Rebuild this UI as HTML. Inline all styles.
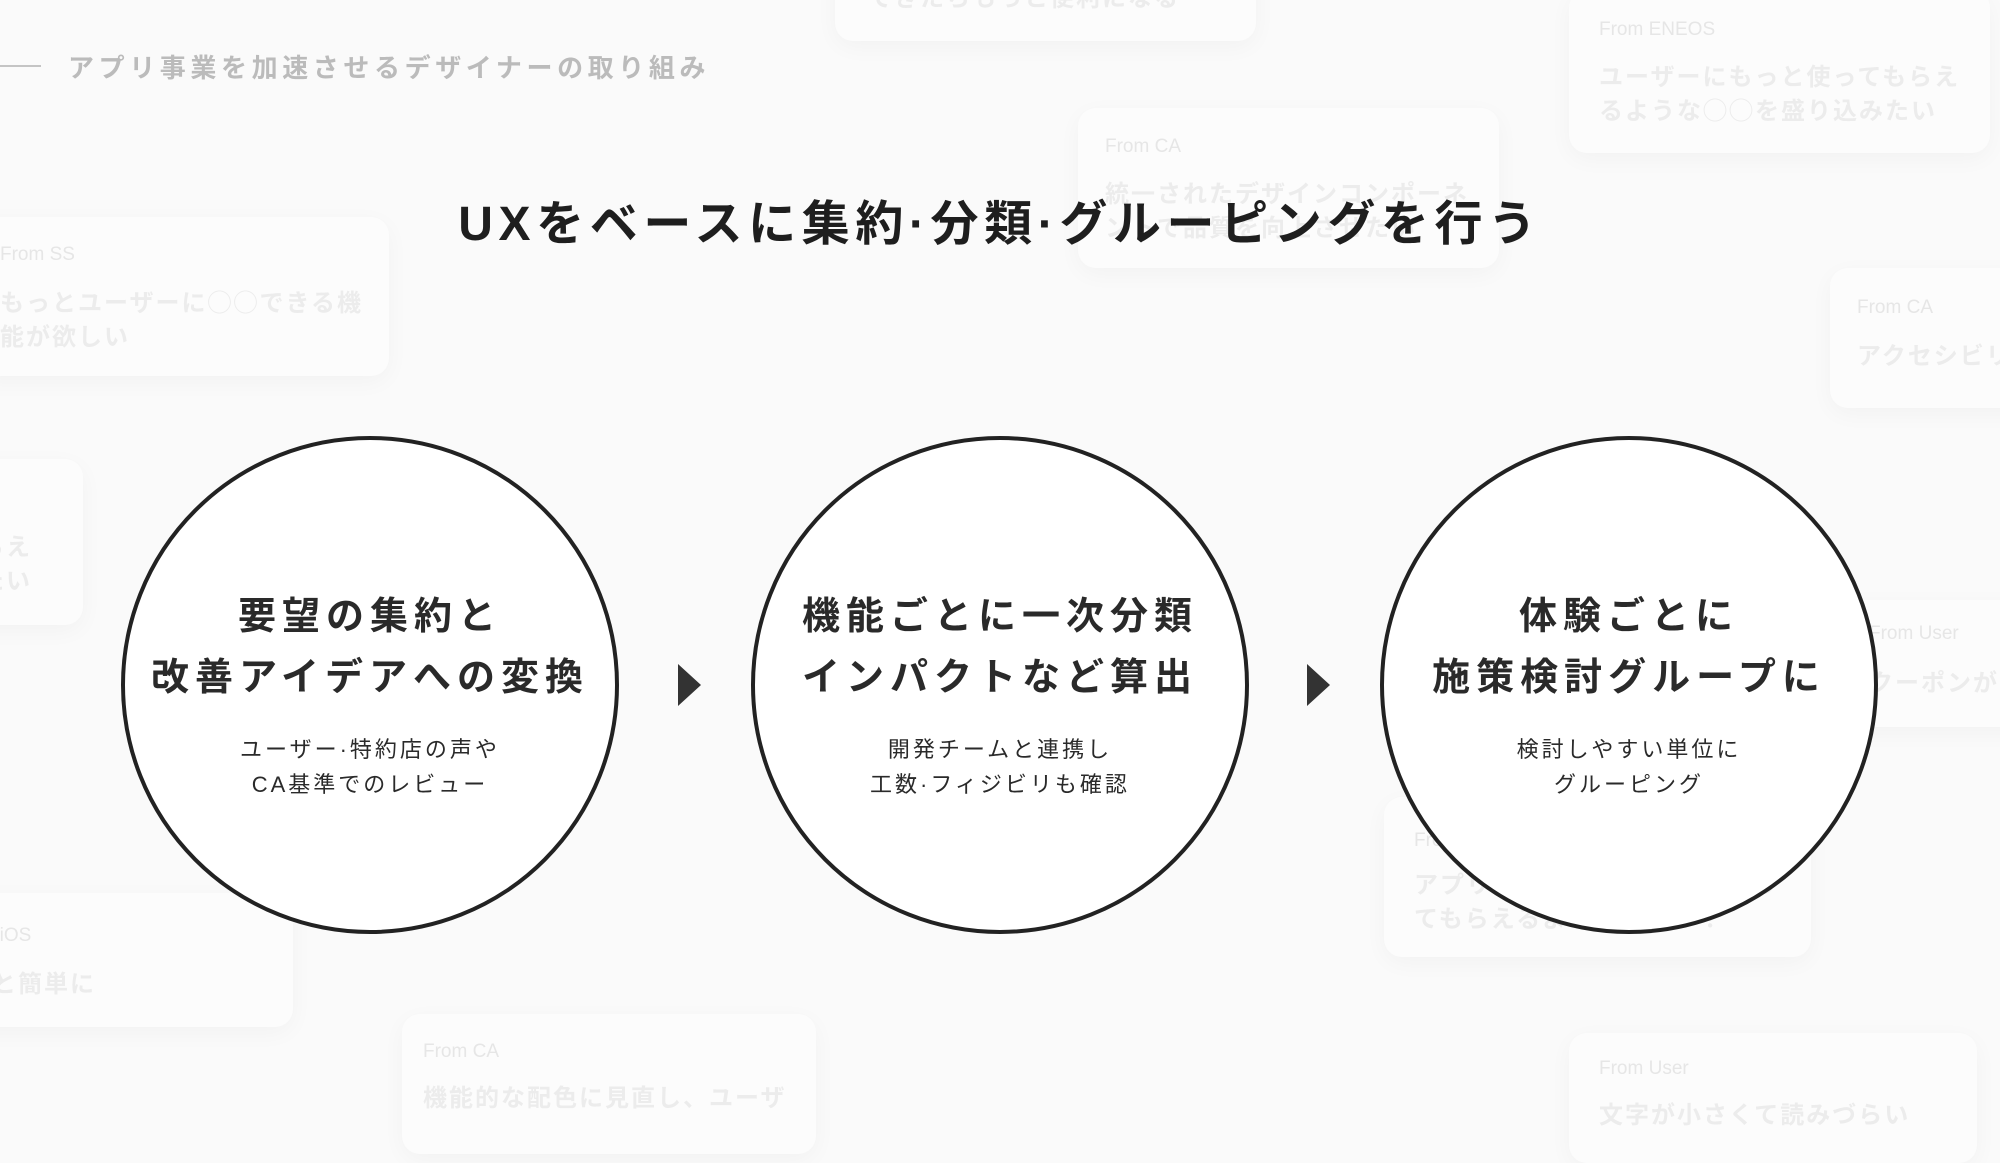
<!DOCTYPE html>
<html><head><meta charset="utf-8"><style>
html,body{margin:0;padding:0}
body{width:2000px;height:1125px;overflow:hidden;background:#fafafa;position:relative;font-family:"Liberation Sans","Noto Sans CJK JP",sans-serif}
.card{position:absolute;background:#fcfcfc;border-radius:18px;box-shadow:0 6px 24px rgba(0,0,0,0.035);}
.f{position:absolute;font-size:19px;color:#e6e6e6;white-space:nowrap}
.t{position:absolute;font-size:24px;font-weight:bold;color:#ececec;line-height:34px;letter-spacing:2px;white-space:nowrap}
.c{position:absolute;width:498px;height:498px;border:4px solid #222;border-radius:50%;background:#fff;box-sizing:border-box;text-align:center}
.m{position:absolute;left:0;right:0;top:147px;font-size:38px;font-weight:bold;color:#2a2a2a;line-height:61px;letter-spacing:6px}
.s{position:absolute;left:0;right:0;top:292px;font-size:22px;color:#2a2a2a;line-height:35px;letter-spacing:3px}
.a{position:absolute;width:0;height:0;border-top:21px solid transparent;border-bottom:21px solid transparent;border-left:23px solid #333}
</style></head><body>
<div class="card" style="left:835px;top:-60px;width:421px;height:101px"></div>
<div class="t" style="left:868px;top:-18px">できたらもっと便利になる</div>
<div class="card" style="left:1569px;top:-10px;width:421px;height:163px"></div>
<div class="f" style="left:1599px;top:19px">From ENEOS</div>
<div class="t" style="left:1599px;top:61px">ユーザーにもっと使ってもらえ<br>るような◯◯を盛り込みたい</div>
<div class="card" style="left:1078px;top:108px;width:421px;height:160px"></div>
<div class="f" style="left:1105px;top:136px">From CA</div>
<div class="t" style="left:1105px;top:178px">統一されたデザインコンポーネ<br>ントで品質を向上させたい</div>
<div class="card" style="left:-25px;top:217px;width:414px;height:159px"></div>
<div class="f" style="left:0px;top:244px">From SS</div>
<div class="t" style="left:0px;top:287px">もっとユーザーに◯◯できる機<br>能が欲しい</div>
<div class="card" style="left:1830px;top:268px;width:200px;height:140px"></div>
<div class="f" style="left:1857px;top:297px">From CA</div>
<div class="t" style="left:1857px;top:340px">アクセシビリティ</div>
<div class="card" style="left:-40px;top:459px;width:123px;height:166px"></div>
<div class="t" style="left:-46px;top:531px">もらえ<br>みたい</div>
<div class="card" style="left:1837px;top:600px;width:200px;height:127px"></div>
<div class="f" style="left:1869px;top:623px">From User</div>
<div class="t" style="left:1869px;top:667px">クーポンが…</div>
<div class="card" style="left:-40px;top:893px;width:333px;height:134px"></div>
<div class="f" style="left:-50px;top:925px">From iOS</div>
<div class="t" style="left:-60px;top:968px">もっと簡単に</div>
<div class="card" style="left:1384px;top:797px;width:427px;height:160px"></div>
<div class="f" style="left:1414px;top:830px">From CA</div>
<div class="t" style="left:1414px;top:869px">アプリをもっとユーザーに使っ<br>てもらえるようにしたい！</div>
<div class="card" style="left:402px;top:1014px;width:414px;height:140px"></div>
<div class="f" style="left:423px;top:1041px">From CA</div>
<div class="t" style="left:423px;top:1082px">機能的な配色に見直し、ユーザ</div>
<div class="card" style="left:1569px;top:1033px;width:408px;height:130px"></div>
<div class="f" style="left:1599px;top:1058px">From User</div>
<div class="t" style="left:1599px;top:1099px">文字が小さくて読みづらい</div>

<div style="position:absolute;left:0;top:65px;width:41px;height:2px;background:#c4c4c4"></div>
<div style="position:absolute;left:68px;top:48px;font-size:26px;font-weight:bold;color:#bbb;letter-spacing:4.6px;white-space:nowrap">アプリ事業を加速させるデザイナーの取り組み</div>
<div style="position:absolute;left:0;width:2000px;top:184px;text-align:center;font-size:48px;font-weight:bold;color:#1e1e1e;letter-spacing:5.6px;white-space:nowrap">UXをベースに集約·分類·グルーピングを行う</div>

<div class="c" style="left:121px;top:436px"><div class="m">要望の集約と<br>改善アイデアへの変換</div><div class="s">ユーザー·特約店の声や<br>CA基準でのレビュー</div></div>
<div class="c" style="left:751px;top:436px"><div class="m">機能ごとに一次分類<br>インパクトなど算出</div><div class="s">開発チームと連携し<br>工数·フィジビリも確認</div></div>
<div class="c" style="left:1380px;top:436px"><div class="m">体験ごとに<br>施策検討グループに</div><div class="s">検討しやすい単位に<br>グルーピング</div></div>
<div class="a" style="left:678px;top:664px"></div>
<div class="a" style="left:1307px;top:664px"></div>
</body></html>
